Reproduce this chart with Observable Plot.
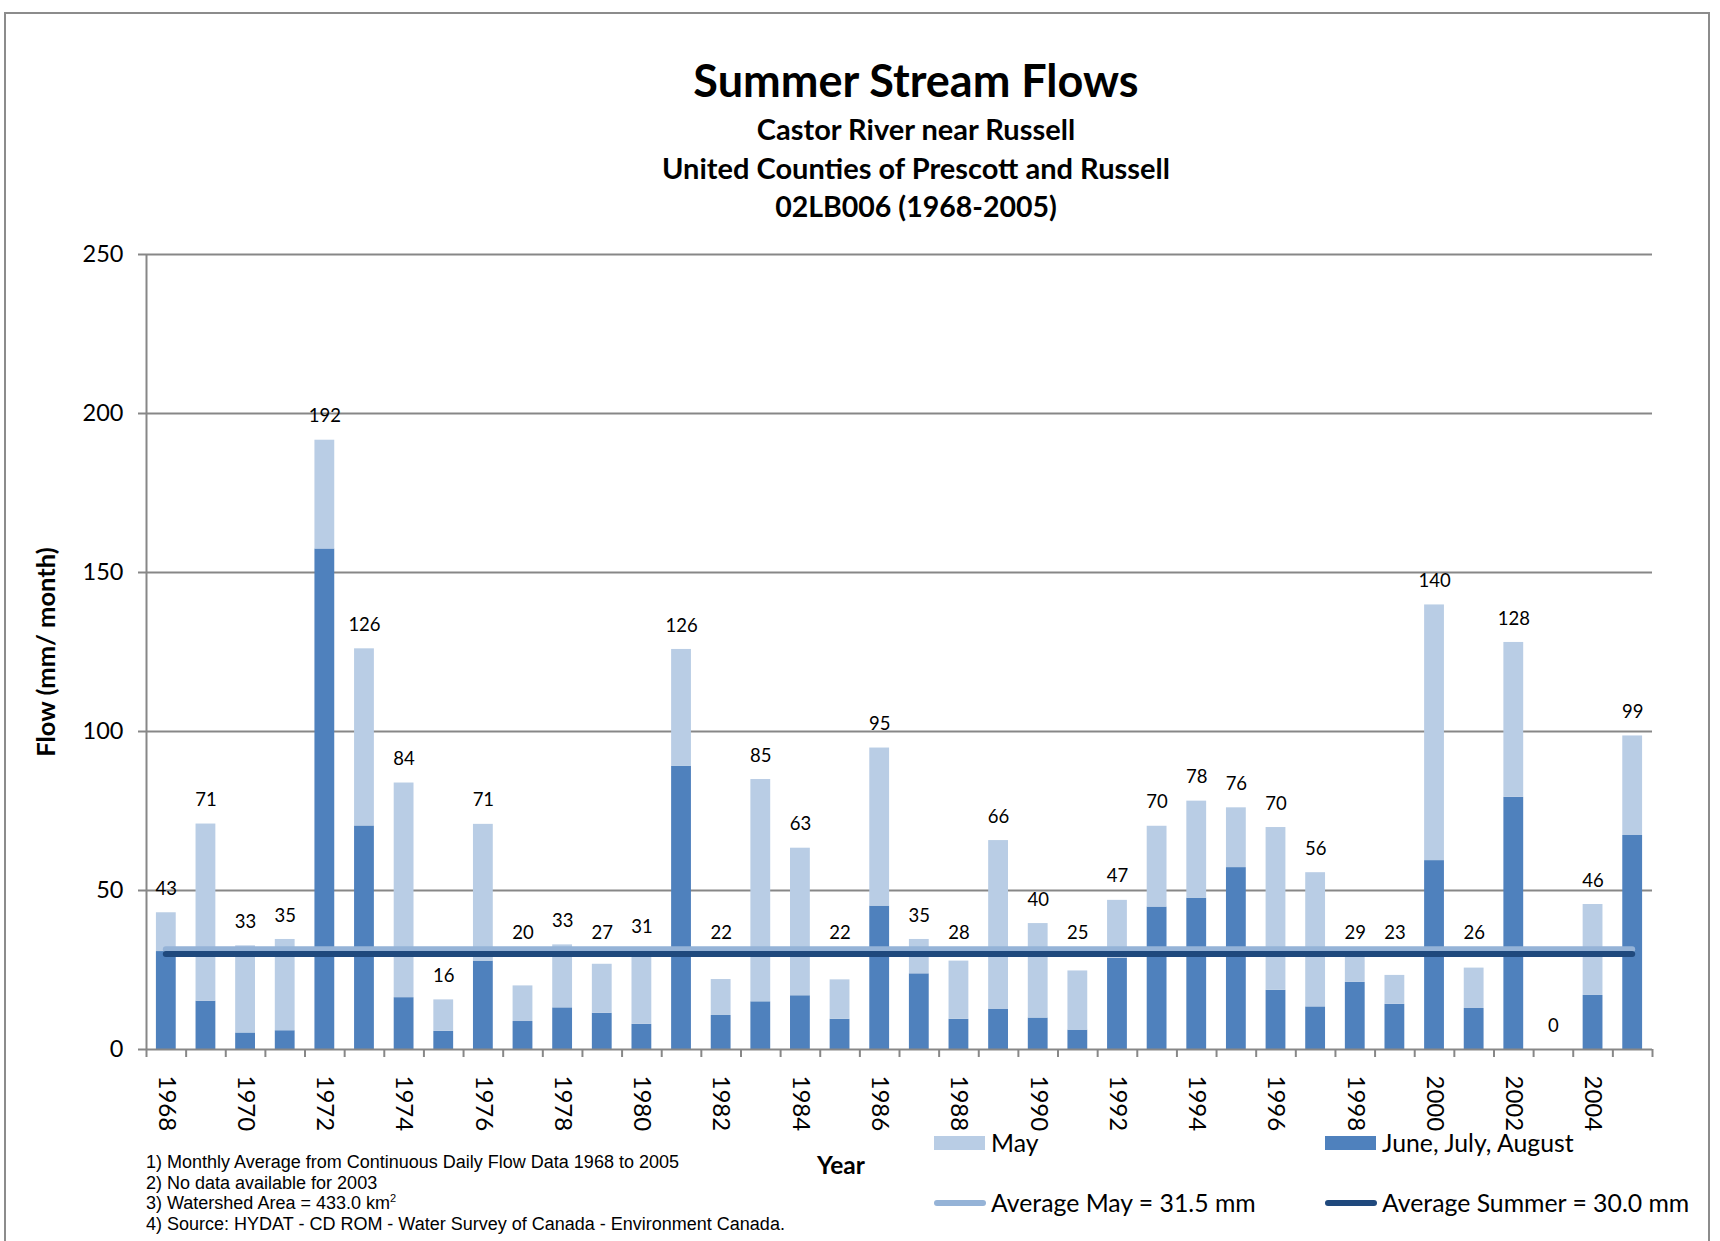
<!DOCTYPE html>
<html>
<head>
<meta charset="utf-8">
<script src="https://cdn.jsdelivr.net/npm/d3@7"></script>
<script src="https://cdn.jsdelivr.net/npm/@observablehq/plot@0.6"></script>
<style>
  html, body { margin: 0; padding: 0; background: #fff; }
  body { width: 1720px; height: 1241px; overflow: hidden; position: relative; font-family: Lato, sans-serif; color: #000; }
  #frame { position: absolute; left: 4px; top: 12px; width: 1706px; height: 1300px; border: 2px solid #8c8c8c; box-sizing: border-box; }
  .t { position: absolute; left: 0; width: 1832px; text-align: center; font-weight: bold; white-space: nowrap; }
  #chart { position: absolute; left: 0; top: 220px; }
  #notes { position: absolute; left: 146px; top: 1152px; font-family: "Liberation Sans", Arial, sans-serif; font-size: 18px; line-height: 20.5px; white-space: nowrap; }
  #notes sup { font-size: 11px; line-height: 0; vertical-align: 7px; }
  #xlabel { position: absolute; left: 791px; width: 100px; text-align: center; top: 1150px; line-height: 30px; font-weight: bold; font-size: 24.5px; }
  .lg { position: absolute; font-size: 24.8px; line-height: 30px; white-space: nowrap; }
  .sw { position: absolute; }
</style>
</head>
<body>
<div id="frame"></div>
<div class="t" style="top:54px;line-height:52px;font-size:45px;">Summer Stream Flows</div>
<div class="t" style="top:111px;line-height:36px;font-size:29px;">Castor River near Russell</div>
<div class="t" style="top:150px;line-height:36px;font-size:29px;">United Counties of Prescott and Russell</div>
<div class="t" style="top:188px;line-height:36px;font-size:28.5px;">02LB006 (1968-2005)</div>
<div id="chart"></div>
<div id="xlabel">Year</div>
<div id="notes">
  <div>1) Monthly Average from Continuous Daily Flow Data 1968 to 2005</div>
  <div>2) No data available for 2003</div>
  <div>3) Watershed Area = 433.0 km<sup>2</sup></div>
  <div>4) Source: HYDAT - CD ROM - Water Survey of Canada - Environment Canada.</div>
</div>
<div id="legend"></div>
<script>
// ---- data ----
const years = [1968,1969,1970,1971,1972,1973,1974,1975,1976,1977,1978,1979,1980,1981,1982,1983,1984,1985,1986,1987,1988,1989,1990,1991,1992,1993,1994,1995,1996,1997,1998,1999,2000,2001,2002,2003,2004,2005];
const summerFlow = [30.8,15.2,5.2,5.9,157.4,70.3,16.3,5.7,27.8,8.8,13.1,11.4,7.9,89.1,10.7,15.0,16.9,9.5,45.1,23.8,9.5,12.7,9.9,6.1,28.7,44.8,47.6,57.2,18.6,13.4,21.1,14.2,59.4,12.9,79.3,0,17.0,67.3];
const mayFlow = [12.2,55.7,27.4,28.7,34.2,55.7,67.5,9.9,43.0,11.2,19.8,15.4,23.1,36.7,11.3,69.9,46.4,12.4,49.7,10.8,18.3,53.0,29.7,18.6,18.2,25.4,30.5,18.8,51.2,42.2,7.9,9.1,80.4,12.7,48.7,0,28.6,31.3];
const avgMay = 31.5;
const avgSummer = 30.0;
const yTicks = [0, 50, 100, 150, 200, 250];
const seriesNames = ["May", "June, July, August"];
const avgNames = ["Average May = 31.5 mm", "Average Summer = 30.0 mm"];

// ---- styles ----
const cMay = "#B9CDE5", cSummer = "#4F81BD", cAvgMay = "#95B3D7", cAvgSummer = "#1F497D", cGrid = "#878787";

const rows = years.map((year, i) => ({year, summer: summerFlow[i], may: mayFlow[i], total: summerFlow[i] + mayFlow[i]}));
const boundaries = [...years.map(y => y - 0.5), years[years.length - 1] + 0.5];
const evenYears = years.filter(y => y % 2 === 0);
const halfBar = 0.25;

// label placement (in data units): just above the bar, lifted above the average lines if they would overlap
const labelGap = 7.5, labelHalf = 2.9;
const bandLo = Math.min(avgMay, avgSummer) - 1, bandHi = Math.max(avgMay, avgSummer) + 1;
function labelY(d) {
  const c = d.total + labelGap;
  if (c - labelHalf < bandHi && c + labelHalf > bandLo) return bandHi + 4;
  return c;
}

const chart = Plot.plot({
  width: 1720,
  height: 929,
  marginLeft: 146,
  marginRight: 68,
  marginTop: 34,
  marginBottom: 100,
  style: {fontFamily: "Lato, sans-serif", color: "#000", background: "transparent"},
  x: {type: "linear", domain: [years[0] - 0.5, years[years.length - 1] + 0.5]},
  y: {domain: [0, 250]},
  marks: [
    Plot.ruleY(yTicks.slice(1), {stroke: cGrid, strokeWidth: 2}),
    Plot.rect(rows, {x1: d => d.year - halfBar, x2: d => d.year + halfBar, y1: 0, y2: "summer", fill: cSummer}),
    Plot.rect(rows, {x1: d => d.year - halfBar, x2: d => d.year + halfBar, y1: "summer", y2: "total", fill: cMay}),
    Plot.ruleY([avgMay], {x1: years[0], x2: years[years.length - 1], stroke: cAvgMay, strokeWidth: 6, strokeLinecap: "round"}),
    Plot.ruleY([avgSummer], {x1: years[0], x2: years[years.length - 1], stroke: cAvgSummer, strokeWidth: 6, strokeLinecap: "round"}),
    Plot.text(rows, {x: "year", y: labelY, text: d => String(Math.round(d.total)), fontSize: 18.5, fill: "#000"}),
    Plot.ruleX([years[0] - 0.5], {stroke: cGrid, strokeWidth: 2}),
    Plot.ruleY([0], {stroke: cGrid, strokeWidth: 2}),
    Plot.axisY({ticks: yTicks, tickSize: 8, tickPadding: 15, fontSize: 23.5, stroke: cGrid, strokeWidth: 2, label: null, tickFormat: d => String(d)}),
    Plot.axisX({ticks: boundaries, tickSize: 8, stroke: cGrid, strokeWidth: 2, tickFormat: () => "", label: null}),
    Plot.axisX({ticks: evenYears, tickSize: 0, tickPadding: 26, tickRotate: 90, textAnchor: "start", lineAnchor: "middle", fontSize: 24, tickFormat: d => String(d), label: null}),
    Plot.text(["Flow (mm/ month)"], {frameAnchor: "left", rotate: -90, dx: -100, textAnchor: "middle", lineAnchor: "middle", fontWeight: "bold", fontSize: 25.5, fill: "#000"})
  ]
});
document.getElementById("chart").appendChild(chart);

// ---- legend ----
const legend = document.getElementById("legend");
const legendItems = [
  {label: seriesNames[0], kind: "box", color: cMay, x: 934, y: 1143},
  {label: seriesNames[1], kind: "box", color: cSummer, x: 1325, y: 1143},
  {label: avgNames[0], kind: "line", color: cAvgMay, x: 934, y: 1203},
  {label: avgNames[1], kind: "line", color: cAvgSummer, x: 1325, y: 1203}
];
for (const it of legendItems) {
  const sw = document.createElement("div");
  sw.className = "sw";
  if (it.kind === "box") {
    Object.assign(sw.style, {left: it.x + "px", top: (it.y - 7) + "px", width: "51px", height: "14px", background: it.color});
  } else {
    Object.assign(sw.style, {left: it.x + "px", top: (it.y - 3) + "px", width: "52px", height: "6px", background: it.color, borderRadius: "3px"});
  }
  legend.appendChild(sw);
  const tx = document.createElement("div");
  tx.className = "lg";
  tx.textContent = it.label;
  Object.assign(tx.style, {left: (it.x + 57) + "px", top: (it.y - 15) + "px"});
  legend.appendChild(tx);
}
</script>
</body>
</html>
